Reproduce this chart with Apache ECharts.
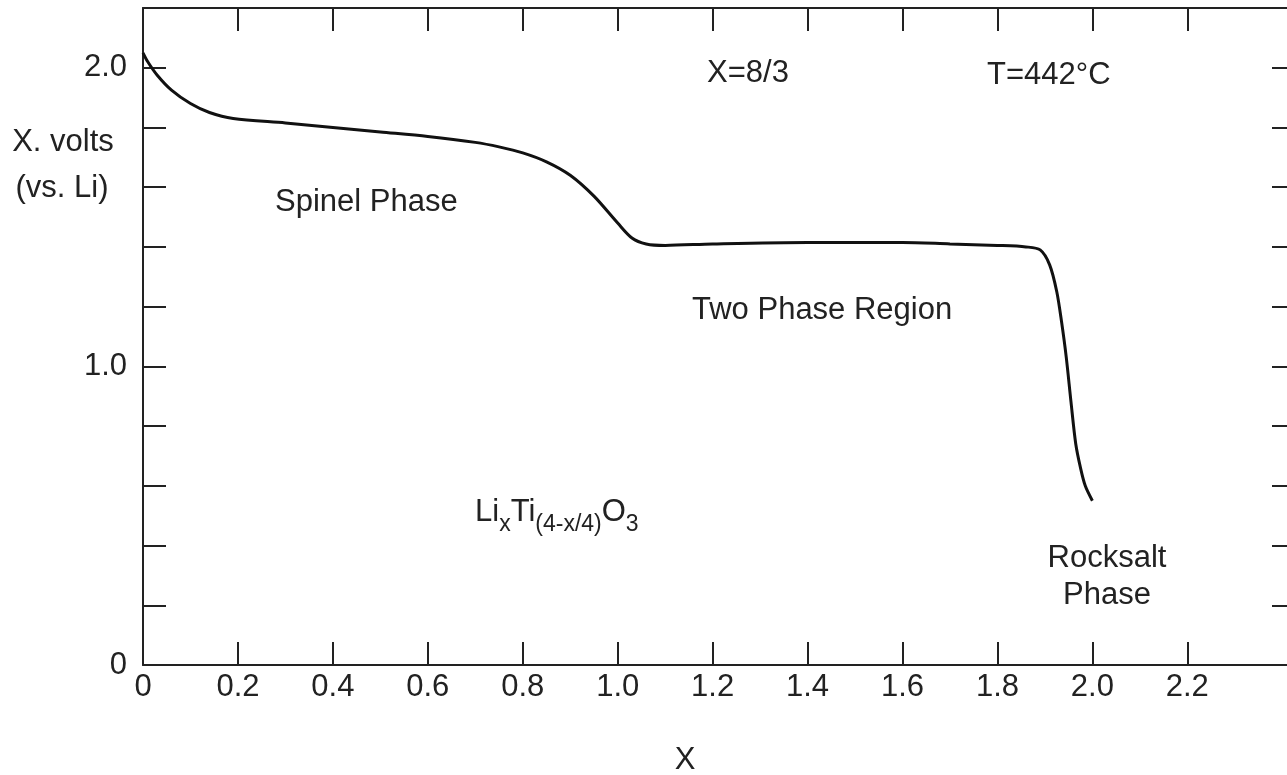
<!DOCTYPE html>
<html>
<head>
<meta charset="utf-8">
<title>LixTi(4-x/4)O3 discharge curve</title>
<script src="https://cdn.jsdelivr.net/npm/echarts@6/dist/echarts.min.js"></script>
<style>
  html, body { margin: 0; padding: 0; background: #fff; }
  #chart { width: 1287px; height: 775px; }
</style>
</head>
<body>
<div id="chart"></div>
<script>
// x = Li content, volts vs. Li
const lithiumX = [0, 0.01, 0.03, 0.06, 0.1, 0.14, 0.19, 0.3, 0.4, 0.5, 0.6, 0.7, 0.75, 0.8, 0.85, 0.9, 0.95, 1.0, 1.03, 1.06, 1.1, 1.2, 1.4, 1.6, 1.7, 1.8, 1.86, 1.89, 1.91, 1.925, 1.935, 1.945, 1.955, 1.965, 1.975, 1.985, 2.0];
const volts = [2.05, 2.02, 1.975, 1.925, 1.88, 1.85, 1.83, 1.815, 1.8, 1.785, 1.77, 1.75, 1.735, 1.715, 1.685, 1.64, 1.57, 1.48, 1.43, 1.41, 1.405, 1.41, 1.415, 1.415, 1.41, 1.405, 1.4, 1.39, 1.34, 1.25, 1.15, 1.03, 0.88, 0.74, 0.66, 0.6, 0.55];

const xTicks = [0.2, 0.4, 0.6, 0.8, 1.0, 1.2, 1.4, 1.6, 1.8, 2.0, 2.2];
const xTickLabels = [0, 0.2, 0.4, 0.6, 0.8, 1.0, 1.2, 1.4, 1.6, 1.8, 2.0, 2.2];
const yTicks = [0.2, 0.4, 0.6, 0.8, 1.0, 1.2, 1.4, 1.6, 1.8, 2.0];
const yTickLabels = [0, 1.0, 2.0];

const ink = "#222";
const font = "Liberation Sans";
const size = 31;

const chart = echarts.init(document.getElementById("chart"));

const fmt = (v) => (v === 0 ? "0" : v.toFixed(1));

const axisLine = { show: true, onZero: false, lineStyle: { color: ink, width: 2 } };
const tick = (values, len) => ({ show: true, inside: true, length: len || 23, customValues: values, lineStyle: { color: ink, width: 2 } });

// plain text annotation, placed by its anchor point
const note = (text, x, y, align) => ({
  type: "text",
  x: x,
  y: y,
  style: {
    text: text,
    font: `${size}px "${font}"`,
    fill: ink,
    align: align || "left",
    textAlign: align || "left",
    verticalAlign: "middle",
    textVerticalAlign: "middle",
  },
});

const option = {
  animation: false,
  backgroundColor: "#fff",
  textStyle: { fontFamily: font },
  grid: { left: 143, right: 0, top: 8, bottom: 110, containLabel: false },
  xAxis: [
    {
      type: "value",
      position: "bottom",
      min: 0,
      max: 2.41,
      interval: 0.2,
      axisLine: axisLine,
      axisTick: tick(xTicks),
      axisLabel: { customValues: xTickLabels, formatter: fmt, fontSize: size, color: ink, margin: 7, fontFamily: font },
      splitLine: { show: false },
    },
    {
      type: "value",
      position: "top",
      min: 0,
      max: 2.41,
      interval: 0.2,
      axisLine: axisLine,
      axisTick: tick(xTicks),
      axisLabel: { show: false },
      splitLine: { show: false },
    },
  ],
  yAxis: [
    {
      type: "value",
      position: "left",
      min: 0,
      max: 2.2,
      interval: 0.2,
      axisLine: axisLine,
      axisTick: tick(yTicks),
      axisLabel: { customValues: yTickLabels, formatter: fmt, fontSize: size, color: ink, margin: 16, fontFamily: font },
      splitLine: { show: false },
    },
    {
      type: "value",
      position: "right",
      min: 0,
      max: 2.2,
      interval: 0.2,
      axisLine: { show: false, onZero: false },
      axisTick: tick(yTicks, 15),
      axisLabel: { show: false },
      splitLine: { show: false },
    },
  ],
  series: [
    {
      type: "line",
      data: lithiumX.map((x, i) => [x, volts[i]]),
      showSymbol: false,
      smooth: 0.3,
      lineStyle: { color: "#111", width: 3 },
    },
  ],
  graphic: [
    note("X. volts", 63, 142, "center"),
    note("(vs. Li)", 62, 188, "center"),
    note("Spinel Phase", 275, 202),
    note("X=8/3", 707, 73),
    note("T=442°C", 987, 75),
    note("Two Phase Region", 692, 310),
    note("Rocksalt", 1107, 558, "center"),
    note("Phase", 1107, 595, "center"),
    note("X", 685, 760, "center"),
    {
      type: "text",
      left: 475,
      top: 497,
      style: {
        text: "{b|Li}{s|x}{b|Ti}{s|(4-x/4)}{b|O}{s|3}",
        fill: ink,
        rich: {
          b: { fontSize: size, fontFamily: font, lineHeight: 32, verticalAlign: "top", fill: ink },
          s: { fontSize: 23, fontFamily: font, lineHeight: 23, padding: [16, 0, 0, 0], verticalAlign: "top", fill: ink },
        },
      },
    },
  ],
};

chart.setOption(option);
</script>
</body>
</html>
